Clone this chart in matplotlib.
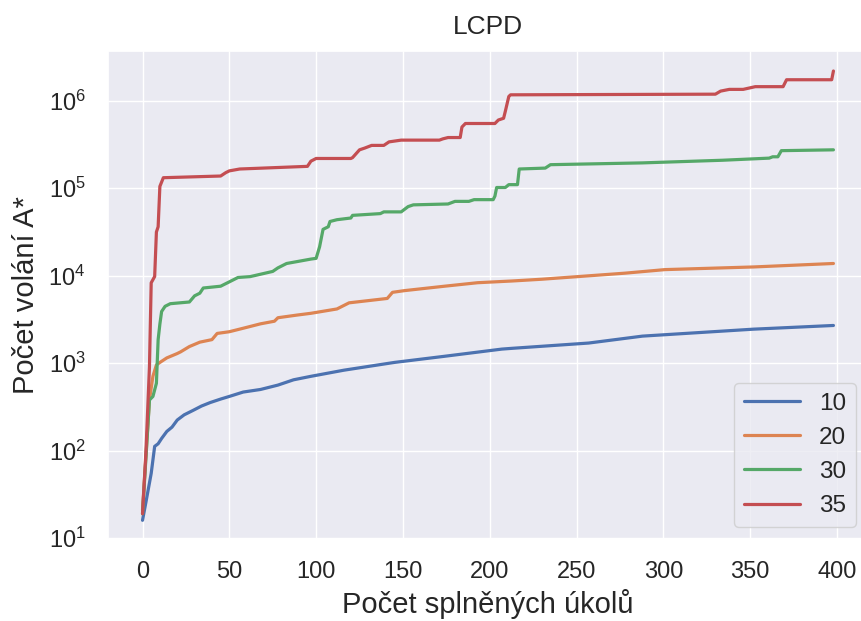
import matplotlib
matplotlib.use("Agg")
import matplotlib.pyplot as plt
import seaborn as sns

# ---- data (x = task index, y = number of A* calls) ----
x10 = [0, 2, 5, 7, 9, 11, 14, 17, 20, 24, 29, 34, 39, 45, 50, 58, 68, 78, 87, 97,
       116, 145, 174, 207, 213, 257, 288, 352, 398]
y10 = [16, 26, 55, 112, 120, 138, 166, 186, 224, 257, 288, 324, 355, 389, 417, 468,
       501, 562, 646, 708, 832, 1020, 1200, 1450, 1480, 1700, 2040, 2450, 2700]

x20 = [0, 4, 6, 8, 10, 14, 20, 22, 27, 33, 40, 43, 50, 58, 68, 76, 78, 89, 97,
       112, 119, 141, 144, 151, 174, 193, 213, 230, 278, 301, 352, 398]
y20 = [21, 380, 710, 955, 1020, 1150, 1290, 1350, 1550, 1740, 1860, 2190, 2290,
       2510, 2820, 3020, 3310, 3550, 3720, 4170, 4900, 5500, 6460, 6760, 7590,
       8320, 8710, 9120, 10700, 11750, 12600, 13800]

x30 = [0, 4, 6, 8, 9, 10, 11, 13, 16, 27, 30, 33, 35, 45, 50, 55, 62, 75, 78, 83,
       97, 100, 102, 104, 107, 108, 112, 120, 121, 137, 139, 149, 153, 156, 176,
       180, 188, 191, 202, 203, 204, 209, 211, 216, 217, 232, 235, 288, 334, 361,
       363, 366, 368, 398]
y30 = [19, 380, 417, 590, 1860, 2800, 3900, 4470, 4790, 5010, 5890, 6310, 7240,
       7590, 8510, 9550, 9770, 11200, 12300, 13800, 15500, 15800, 21400, 33900,
       36300, 41700, 43700, 45700, 49000, 51300, 53700, 53700, 61700, 64600,
       66100, 70800, 70800, 74100, 74100, 81300, 102000, 102000, 110000, 110000,
       166000, 170000, 186000, 195000, 209000, 221000, 229000, 229000, 269000,
       275000]

x35 = [0, 2, 4, 5, 7, 8, 9, 10, 12, 45, 48, 50, 56, 95, 97, 100, 120, 121, 125,
       128, 132, 139, 142, 149, 171, 173, 176, 183, 184, 186, 203, 205, 208, 209,
       211, 212, 330, 333, 338, 346, 353, 369, 371, 397, 398]
y35 = [19, 100, 910, 8300, 9800, 31600, 36300, 105000, 132000, 138000, 151000,
       158000, 166000, 178000, 204000, 219000, 219000, 224000, 275000, 288000,
       309000, 309000, 339000, 355000, 355000, 367000, 380000, 380000, 501000,
       550000, 550000, 603000, 631000, 759000, 1120000, 1170000, 1190000,
       1290000, 1350000, 1350000, 1450000, 1450000, 1740000, 1740000, 2190000]

series_labels = ["10", "20", "30", "35"]
title = "LCPD"
xlabel = "Počet splněných úkolů"
ylabel = "Počet volání A*"

sns.set_theme(style="darkgrid")
plt.rcParams["font.family"] = ["Liberation Sans", "DejaVu Sans"]

fig = plt.figure(figsize=(8.61, 6.21), dpi=100)
ax = fig.add_axes([0.1254, 0.132, 0.8827, 0.786])

palette = sns.color_palette()
for i, (xs, ys) in enumerate([(x10, y10), (x20, y20), (x30, y30), (x35, y35)]):
    ax.plot(xs, ys, color=palette[i], lw=2.3, label=series_labels[i])

ax.set_yscale("log")
ax.set_xlim(-19.9, 417.9)
ax.set_ylim(10 ** 0.99, 10 ** 6.57)
ax.set_xticks([0, 50, 100, 150, 200, 250, 300, 350, 400])
ax.tick_params(axis="x", labelsize=17, pad=10)
ax.tick_params(axis="y", labelsize=17, pad=10)
ax.set_title(title, fontsize=19, pad=12)
ax.set_xlabel(xlabel, fontsize=21, labelpad=4)
ax.set_ylabel(ylabel, fontsize=21, labelpad=6)
ax.legend(loc="lower right", fontsize=17.5, handlelength=2.3,
          borderaxespad=0.5)

fig.savefig("out.png", dpi=100)
